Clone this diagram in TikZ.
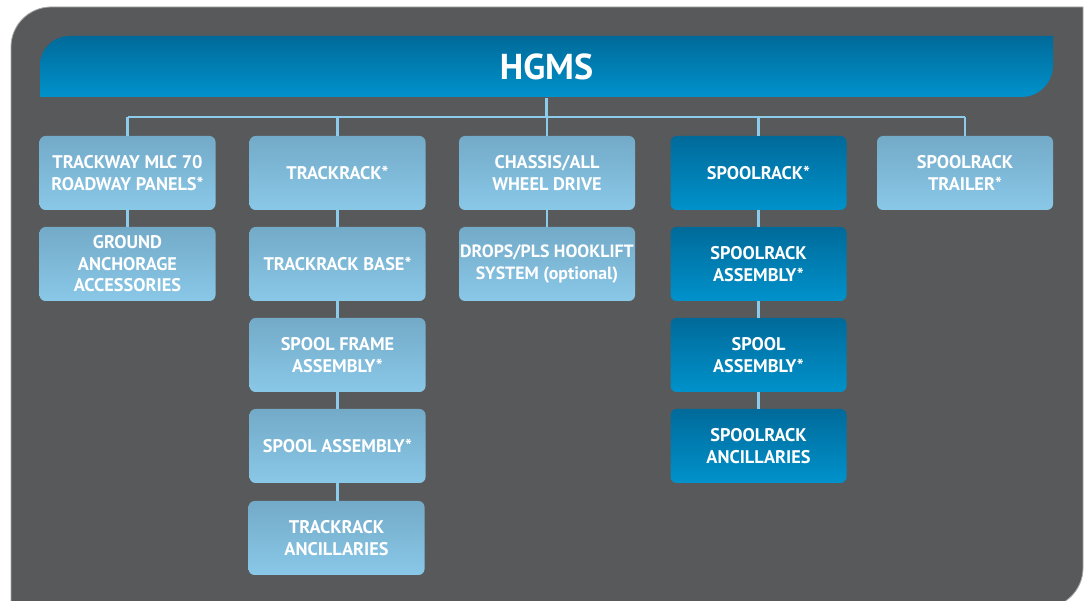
\documentclass[tikz,border=0pt]{standalone}
\usepackage{fontspec}
\setmainfont{PT Sans}
\definecolor{panel}{HTML}{58595B}
\definecolor{rim}{HTML}{A7A8AA}
\definecolor{wire}{HTML}{8CCBEA}
\definecolor{lighttop}{HTML}{73AAC8}
\definecolor{lightbot}{HTML}{8AC8E8}
\definecolor{darktop}{HTML}{006A9A}
\definecolor{darkbot}{HTML}{0092CB}
\tikzset{
  item/.style={rounded corners=6pt, minimum width=176pt, minimum height=74pt,
    inner sep=0pt, align=center, text=white,
    font=\fontsize{18.3}{21.5}\selectfont\bfseries},
  litem/.style={item, top color=lighttop, bottom color=lightbot},
  ditem/.style={item, top color=darktop, bottom color=darkbot},
  link/.style={draw=wire, line width=2.4pt}
}
\begin{document}
\begin{tikzpicture}[x=1pt, y=-1pt]
\useasboundingbox (0,0) rectangle (1088,601);
\clip (0,0) rectangle (1088,601);
% dark panel with one rounded top corner and a rounded lower right corner
\fill[panel, draw=rim, line width=0.8pt]
  (11,612) -- (11,47) .. controls (11,25) and (29,7) .. (51,7)
  -- (1083,7) -- (1083,568) .. controls (1083,590) and (1065,608) .. (1043,608)
  -- (11,608) -- cycle;
% title banner
\shade[top color=darktop, bottom color=darkbot]
  (40,97) -- (40,66) .. controls (40,49) and (53,36) .. (70,36)
  -- (1053,36) -- (1053,65) .. controls (1053,82) and (1040,97) .. (1021,97) -- cycle;
\node[text=white, font=\fontsize{36}{40}\selectfont\bfseries,
      minimum width=1013pt, minimum height=61pt, inner sep=0pt]
  (hgms) at (546.5,67) {HGMS};

% first row
\node[litem] (c1a) at (127.5,173) {TRACKWAY MLC 70\\ROADWAY PANELS*};
\node[litem] (c2a) at (337.5,173) {TRACKRACK*};
\node[litem] (c3a) at (547,173) {CHASSIS/ALL\\WHEEL DRIVE};
\node[ditem] (c4a) at (758.5,173) {SPOOLRACK*};
\node[litem] (c5a) at (965,173) {SPOOLRACK\\TRAILER*};

% stacked items
\node[litem] (c1b) at (127.5,264) {GROUND\\ANCHORAGE\\ACCESSORIES};
\node[litem] (c2b) at (337.5,264) {TRACKRACK BASE*};
\node[litem] (c2c) at (337.5,355) {SPOOL FRAME\\ASSEMBLY*};
\node[litem] (c2d) at (337.5,446) {SPOOL ASSEMBLY*};
\node[litem] (c2e) at (336.5,538) {TRACKRACK\\ANCILLARIES};
\node[litem, font=\fontsize{17.8}{21.5}\selectfont\bfseries]
  (c3b) at (547,264) {DROPS/PLS HOOKLIFT\\SYSTEM (optional)};
\node[ditem] (c4b) at (758.5,264) {SPOOLRACK\\ASSEMBLY*};
\node[ditem] (c4c) at (758.5,355) {SPOOL\\ASSEMBLY*};
\node[ditem] (c4d) at (758.5,446) {SPOOLRACK\\ANCILLARIES};

% connectors
\coordinate (busL) at (127.5,117);
\coordinate (busR) at (965,117);
\draw[link] (busL) -- (busR);
\draw[link] (hgms.south) -- (hgms.south |- busL);
\foreach \n in {c1a,c2a,c3a,c4a,c5a}
  \draw[link] (\n.north) -- (\n.north |- busL);
\draw[link] (c1a.south) -- (c1b.north);
\draw[link] (c2a.south) -- (c2b.north);
\draw[link] (c2b.south) -- (c2c.north);
\draw[link] (c2c.south) -- (c2d.north);
\draw[link] (c2d.south) -- (c2d.south |- c2e.north);
\draw[link] (c3a.south) -- (c3b.north);
\draw[link] (c4a.south) -- (c4b.north);
\draw[link] (c4b.south) -- (c4c.north);
\draw[link] (c4c.south) -- (c4d.north);
\end{tikzpicture}
\end{document}
